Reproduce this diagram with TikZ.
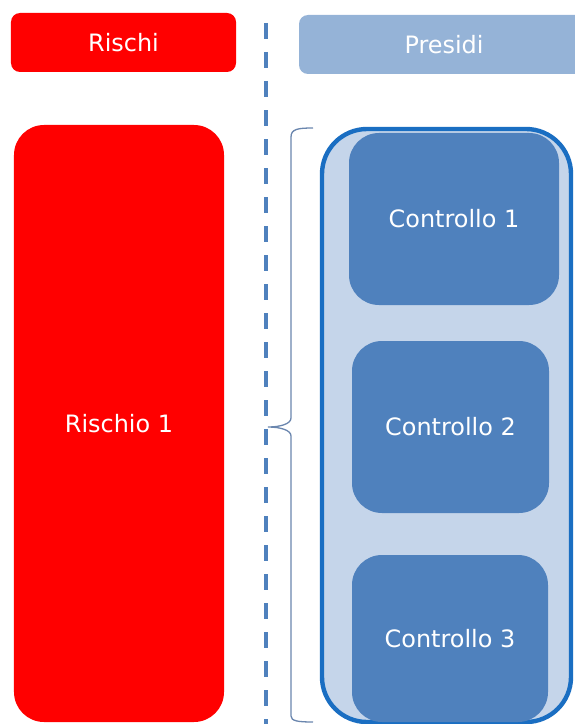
\documentclass[tikz,border=0pt]{standalone}
\usepackage{fontspec}
\setmainfont{DejaVu Sans}
\definecolor{riskred}{HTML}{FF0000}
\definecolor{headblue}{HTML}{95B3D7}
\definecolor{ctrlblue}{HTML}{4F81BD}
\definecolor{groupfill}{HTML}{C5D5EA}
\definecolor{groupline}{HTML}{1A6EC2}
\definecolor{bracegray}{HTML}{6A86AE}
\begin{document}
\begin{tikzpicture}[x=1bp,y=-1bp,
  box/.style={inner sep=0pt,outer sep=0pt,text=white,
    font=\fontsize{24}{28}\selectfont},
  header/.style={box,rounded corners=9bp},
  ctrl/.style={box,fill=ctrlblue,rounded corners=30bp},
  divider/.style={draw=ctrlblue,line width=3.6bp,dash pattern=on 16bp off 13bp},
  bracket/.style={draw=bracegray,line width=1.3bp}]
\useasboundingbox (0,0) rectangle (575,724);
\begin{scope}
\clip (0,0) rectangle (575,724);

% column headers
\node[header,fill=riskred,minimum width=225bp,minimum height=59bp] (rischi) at (123.5,42.5) {Rischi};
\node[header,fill=headblue,minimum width=290bp,minimum height=59bp] (presidi) at (444,44.5) {Presidi};

% separator
\coordinate (divtop) at (266,23);
\coordinate (divbot) at (266,730);
\draw[divider] (divtop) -- (divbot);

% risk
\node[box,fill=riskred,rounded corners=30bp,minimum width=210bp,minimum height=597bp] (r1) at (119,423.5) {Rischio 1};

% group of controls
\node[draw=groupline,line width=4.4bp,fill=groupfill,rounded corners=45bp,
  inner sep=0pt,minimum width=249bp,minimum height=593bp] (group) at (446.5,425.5) {};
\node[ctrl,minimum width=210bp,minimum height=172bp] (c1) at (454,219) {Controllo 1};
\node[ctrl,minimum width=197bp,minimum height=172bp] (c2) at (450.5,427) {Controllo 2};
\node[ctrl,minimum width=196bp,minimum height=167bp] (c3) at (450,638.5) {Controllo 3};

% brace joining the risk to its controls
\coordinate (btop) at (313,128);
\coordinate (bmid) at (268,427);
\coordinate (bbot) at (313,722);
\draw[bracket] (btop) .. controls (298,128) and (291,129) .. (291,137)
  -- (291,418) .. controls (291,424) and (280,427) .. (bmid)
  .. controls (280,427) and (291,430) .. (291,436)
  -- (291,716) .. controls (291,721) and (298,722) .. (bbot);
\end{scope}
\end{tikzpicture}
\end{document}
